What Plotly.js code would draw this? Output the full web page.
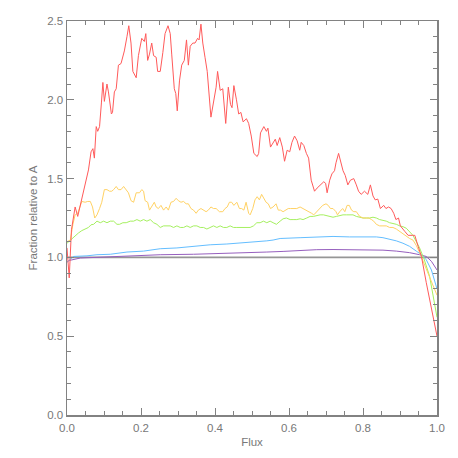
<!DOCTYPE html>
<html>
<head>
<meta charset="utf-8">
<script src="https://cdn.plot.ly/plotly-3.0.1.min.js"></script>
<style>
  html, body {margin: 0; padding: 0; background: #fff;}
  #chart {width: 458px; height: 458px;}
</style>
</head>
<body>
<div id="chart"></div>
<script>
// values
var redX = [0.0, 0.006, 0.012, 0.022, 0.029, 0.040, 0.049, 0.058, 0.065, 0.070, 0.074, 0.079, 0.083, 0.088,
  0.093, 0.097, 0.101, 0.108, 0.112, 0.120, 0.123, 0.128, 0.133, 0.139, 0.146, 0.155, 0.162, 0.167, 0.173,
  0.178, 0.187, 0.193, 0.202, 0.209, 0.213, 0.218, 0.223, 0.229, 0.234, 0.241, 0.245, 0.252, 0.259, 0.265,
  0.273, 0.279, 0.283, 0.290, 0.294, 0.298, 0.304, 0.310, 0.317, 0.323, 0.328, 0.333, 0.340, 0.346, 0.353,
  0.357, 0.362, 0.367, 0.373, 0.379, 0.389, 0.396, 0.403, 0.407, 0.414, 0.421, 0.429, 0.436, 0.442, 0.446,
  0.451, 0.458, 0.464, 0.470, 0.476, 0.485, 0.491, 0.498, 0.505, 0.514, 0.518, 0.523, 0.532, 0.539, 0.543,
  0.550, 0.557, 0.563, 0.568, 0.575, 0.582, 0.588, 0.595, 0.602, 0.608, 0.615, 0.622, 0.629, 0.633, 0.640,
  0.647, 0.653, 0.660, 0.669, 0.676, 0.685, 0.694, 0.699, 0.703, 0.710, 0.716, 0.723, 0.727, 0.734, 0.741,
  0.746, 0.752, 0.759, 0.766, 0.775, 0.782, 0.788, 0.795, 0.804, 0.813, 0.820, 0.827, 0.833, 0.840, 0.847,
  0.856, 0.862, 0.869, 0.876, 0.883, 0.889, 0.896, 0.901, 0.913, 0.922, 0.933, 0.940, 0.949, 0.958, 0.971,
  0.985, 1.0];
var redY = [1.06, 0.87, 1.175, 1.32, 1.26, 1.365, 1.45, 1.555, 1.67, 1.69, 1.63, 1.83, 1.80, 1.83,
  1.98, 2.11, 1.99, 2.10, 2.05, 1.91, 1.92, 2.05, 2.07, 2.22, 2.23, 2.31, 2.40, 2.47, 2.36,
  2.18, 2.14, 2.28, 2.39, 2.37, 2.42, 2.25, 2.29, 2.36, 2.28, 2.27, 2.18, 2.18, 2.30, 2.42,
  2.47, 2.42, 2.29, 2.07, 2.04, 1.93, 2.12, 2.22, 2.25, 2.38, 2.22, 2.34, 2.36, 2.36, 2.39,
  2.38, 2.48, 2.36, 2.27, 2.18, 1.89, 1.99, 2.08, 2.18, 2.06, 2.07, 1.85, 2.08, 1.97, 1.95,
  2.09, 2.00, 1.91, 1.92, 1.86, 1.88, 1.85, 1.77, 1.66, 1.64, 1.66, 1.79, 1.83, 1.80, 1.82,
  1.70, 1.73, 1.75, 1.71, 1.76, 1.70, 1.61, 1.68, 1.67, 1.73, 1.77, 1.74, 1.68, 1.73, 1.71,
  1.66, 1.63, 1.49, 1.42, 1.44, 1.46, 1.48, 1.47, 1.41, 1.49, 1.53, 1.55, 1.60, 1.66, 1.60,
  1.55, 1.52, 1.46, 1.49, 1.50, 1.46, 1.42, 1.40, 1.42, 1.40, 1.46, 1.39, 1.365, 1.37, 1.31,
  1.33, 1.31, 1.32, 1.31, 1.28, 1.24, 1.25, 1.20, 1.165, 1.14, 1.14, 1.14, 1.07, 1.006, 0.84,
  0.67, 0.50];

var orangeX = [0.0, 0.009, 0.016, 0.022, 0.029, 0.034, 0.040, 0.049, 0.056, 0.063, 0.069, 0.075, 0.081, 0.088,
  0.094, 0.101, 0.108, 0.115, 0.121, 0.126, 0.133, 0.139, 0.146, 0.153, 0.160, 0.166, 0.173, 0.180, 0.187,
  0.196, 0.202, 0.207, 0.211, 0.218, 0.223, 0.229, 0.236, 0.241, 0.247, 0.254, 0.261, 0.268, 0.274, 0.281,
  0.288, 0.295, 0.301, 0.308, 0.315, 0.322, 0.328, 0.335, 0.342, 0.349, 0.355, 0.362, 0.369, 0.376, 0.382,
  0.389, 0.396, 0.403, 0.412, 0.421, 0.427, 0.433, 0.439, 0.445, 0.451, 0.459, 0.466, 0.472, 0.478, 0.484,
  0.491, 0.495, 0.502, 0.508, 0.514, 0.520, 0.526, 0.531, 0.538, 0.544, 0.550, 0.557, 0.565, 0.571, 0.577,
  0.584, 0.592, 0.598, 0.604, 0.611, 0.621, 0.630, 0.638, 0.648, 0.655, 0.661, 0.667, 0.675, 0.681, 0.691,
  0.700, 0.706, 0.712, 0.719, 0.727, 0.731, 0.737, 0.745, 0.751, 0.757, 0.763, 0.769, 0.775, 0.782, 0.791,
  0.800, 0.809, 0.816, 0.823, 0.829, 0.836, 0.845, 0.854, 0.863, 0.872, 0.881, 0.890, 0.899, 0.908, 0.917,
  0.926, 0.935, 0.944, 0.953, 0.965, 0.980, 1.0];
var orangeY = [1.10, 1.11, 1.21, 1.27, 1.28, 1.32, 1.355, 1.35, 1.355, 1.355, 1.32, 1.25, 1.27, 1.31,
  1.35, 1.43, 1.43, 1.42, 1.42, 1.43, 1.45, 1.43, 1.43, 1.45, 1.43, 1.41, 1.36, 1.35, 1.41,
  1.41, 1.43, 1.42, 1.36, 1.35, 1.30, 1.32, 1.35, 1.32, 1.31, 1.33, 1.30, 1.32, 1.30, 1.35,
  1.355, 1.375, 1.36, 1.35, 1.355, 1.34, 1.34, 1.31, 1.30, 1.28, 1.30, 1.31, 1.30, 1.29, 1.30,
  1.32, 1.31, 1.31, 1.29, 1.29, 1.31, 1.32, 1.35, 1.35, 1.33, 1.35, 1.31, 1.31, 1.30, 1.35,
  1.28, 1.27, 1.31, 1.365, 1.385, 1.365, 1.40, 1.375, 1.35, 1.34, 1.31, 1.32, 1.34, 1.30, 1.30,
  1.29, 1.30, 1.31, 1.31, 1.31, 1.31, 1.32, 1.31, 1.30, 1.29, 1.28, 1.27, 1.29, 1.31, 1.33,
  1.34, 1.33, 1.31, 1.31, 1.29, 1.27, 1.29, 1.31, 1.29, 1.33, 1.33, 1.30, 1.29, 1.29, 1.26,
  1.25, 1.25, 1.25, 1.24, 1.23, 1.21, 1.20, 1.20, 1.20, 1.19, 1.19, 1.18, 1.165, 1.15, 1.13,
  1.12, 1.11, 1.076, 1.03, 0.96, 0.88, 0.76];

var greenX = [0.0, 0.013, 0.022, 0.031, 0.040, 0.049, 0.058, 0.065, 0.072, 0.081, 0.090, 0.099, 0.108, 0.117,
  0.126, 0.135, 0.142, 0.151, 0.160, 0.171, 0.180, 0.189, 0.198, 0.207, 0.216, 0.225, 0.234, 0.243, 0.252,
  0.261, 0.270, 0.279, 0.288, 0.297, 0.306, 0.315, 0.324, 0.333, 0.342, 0.351, 0.360, 0.369, 0.378, 0.387,
  0.396, 0.405, 0.414, 0.423, 0.432, 0.441, 0.450, 0.459, 0.468, 0.477, 0.486, 0.495, 0.504, 0.513, 0.522,
  0.531, 0.540, 0.549, 0.557, 0.566, 0.576, 0.584, 0.593, 0.603, 0.611, 0.621, 0.630, 0.638, 0.648, 0.657,
  0.666, 0.675, 0.684, 0.693, 0.702, 0.711, 0.719, 0.728, 0.737, 0.746, 0.755, 0.764, 0.773, 0.782, 0.791,
  0.800, 0.809, 0.818, 0.827, 0.836, 0.845, 0.854, 0.863, 0.872, 0.881, 0.890, 0.899, 0.908, 0.917, 0.926,
  0.935, 0.944, 0.953, 0.965, 0.980, 1.0];
var greenY = [1.09, 1.12, 1.14, 1.155, 1.17, 1.18, 1.19, 1.207, 1.21, 1.23, 1.22, 1.23, 1.22, 1.23,
  1.23, 1.21, 1.21, 1.22, 1.22, 1.23, 1.23, 1.24, 1.23, 1.24, 1.23, 1.24, 1.22, 1.21, 1.19,
  1.20, 1.20, 1.20, 1.19, 1.20, 1.19, 1.19, 1.20, 1.19, 1.20, 1.20, 1.19, 1.19, 1.18, 1.19,
  1.20, 1.19, 1.20, 1.19, 1.19, 1.20, 1.19, 1.19, 1.19, 1.19, 1.19, 1.19, 1.20, 1.22, 1.22,
  1.23, 1.22, 1.23, 1.22, 1.21, 1.23, 1.245, 1.25, 1.24, 1.24, 1.24, 1.245, 1.24, 1.25, 1.26,
  1.26, 1.265, 1.27, 1.27, 1.265, 1.26, 1.255, 1.26, 1.265, 1.27, 1.27, 1.27, 1.27, 1.26, 1.255,
  1.25, 1.25, 1.25, 1.255, 1.25, 1.24, 1.235, 1.23, 1.22, 1.215, 1.21, 1.20, 1.195, 1.185, 1.165,
  1.14, 1.10, 1.06, 0.99, 0.88, 0.62];

var blueX = [0.0, 0.018, 0.054, 0.081, 0.117, 0.162, 0.207, 0.252, 0.297, 0.342, 0.387, 0.432, 0.495,
  0.540, 0.557, 0.576, 0.630, 0.675, 0.719, 0.764, 0.809, 0.836, 0.854, 0.872, 0.890, 0.908, 0.926,
  0.944, 0.958, 0.971, 0.985, 1.0];
var blueY = [0.97, 1.006, 1.01, 1.017, 1.02, 1.034, 1.04, 1.055, 1.06, 1.07, 1.08, 1.085, 1.095,
  1.105, 1.11, 1.12, 1.125, 1.13, 1.133, 1.13, 1.13, 1.13, 1.125, 1.115, 1.105, 1.09, 1.07,
  1.04, 1.017, 0.985, 0.92, 0.80];

var purpleX = [0.0, 0.005, 0.036, 0.072, 0.162, 0.252, 0.342, 0.432, 0.495, 0.540, 0.584, 0.630, 0.675,
  0.719, 0.764, 0.809, 0.854, 0.890, 0.926, 0.953, 0.971, 0.985, 1.0];
var purpleY = [0.97, 0.98, 0.996, 1.00, 1.006, 1.017, 1.02, 1.025, 1.028, 1.034, 1.038, 1.044, 1.049,
  1.05, 1.05, 1.049, 1.046, 1.04, 1.03, 1.017, 1.006, 0.975, 0.92];

var refX = [0.0, 1.0];
var refY = [1.0, 1.0];

var axisGray = 'rgb(130,130,130)';
var textFont = {family: 'Liberation Sans, Arial, sans-serif', size: 11.5, color: 'rgb(120,120,120)'};

function line(xs, ys, color, width) {
  return {
    x: xs, y: ys,
    type: 'scatter',
    mode: 'lines',
    line: {color: color, width: width || 1},
    hoverinfo: 'skip',
    showlegend: false
  };
}

var traces = [
  line(refX, refY, 'rgb(150,150,150)', 1.6),
  line(purpleX, purpleY, 'rgb(150,95,190)'),
  line(blueX, blueY, 'rgb(100,190,255)'),
  line(greenX, greenY, 'rgb(165,240,95)'),
  line(orangeX, orangeY, 'rgb(255,210,100)'),
  line(redX, redY, 'rgb(255,90,90)')
];

var axisCommon = {
  showline: true,
  linecolor: axisGray,
  linewidth: 1.5,
  mirror: 'allticks',
  ticks: 'inside',
  ticklen: 7,
  tickcolor: axisGray,
  tickwidth: 1,
  showgrid: false,
  zeroline: false,
  tickformat: '.1f',
  tickfont: textFont
};

var layout = {
  width: 458,
  height: 458,
  margin: {l: 67, r: 21, t: 21, b: 43},
  paper_bgcolor: '#fff',
  plot_bgcolor: '#fff',
  xaxis: Object.assign({}, axisCommon, {
    range: [0, 1],
    dtick: 0.2,
    tick0: 0,
    ticklabelstandoff: 2,
    minor: {ticks: 'inside', dtick: 0.05, ticklen: 4, tickcolor: axisGray, showgrid: false},
    title: {text: 'Flux', standoff: 4, font: textFont}
  }),
  yaxis: Object.assign({}, axisCommon, {
    range: [0, 2.5],
    dtick: 0.5,
    tick0: 0,
    minor: {ticks: 'inside', dtick: 0.1, ticklen: 4, tickcolor: axisGray, showgrid: false},
    title: {text: 'Fraction relative to A', standoff: 7, font: textFont}
  })
};

Plotly.newPlot('chart', traces, layout, {displayModeBar: false, staticPlot: true});
</script>
</body>
</html>
